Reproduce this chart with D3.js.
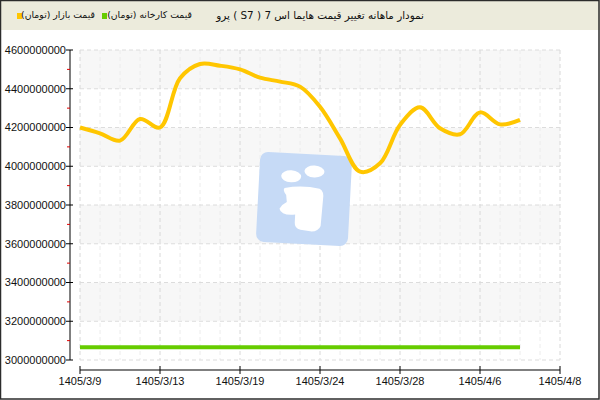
<!DOCTYPE html>
<html>
<head>
<meta charset="UTF-8">
<title>Haima S7 price chart</title>
<script src="https://cdn.jsdelivr.net/npm/d3@7"></script>
<style>
  body { margin: 0; background: #fff; }
  svg { display: block; font-family: "Liberation Sans", "DejaVu Sans", sans-serif; }
</style>
</head>
<body>
<script>
// x positions: 25 slots, labels every 4th slot
const xTickLabels = ['1405/3/9', '1405/3/13', '1405/3/19', '1405/3/24', '1405/3/28', '1405/4/6', '1405/4/8'];
const marketPrice = [4200, 4170, 4132, 4244, 4200, 4454, 4528, 4519, 4500, 4457, 4437, 4411,
                     4307, 4144, 3972, 4015, 4213, 4304, 4196, 4165, 4278, 4216, 4239].map(v => v * 1e6);
const factoryPrice = Array(23).fill(3066e6);
const yTicks = d3.range(3000e6, 4600e6 + 1, 200e6);

const titleText = 'نمودار ماهانه تغییر قیمت هایما اس 7 ( S7 ) پرو';
const legendFactory = 'قیمت کارخانه (تومان)';
const legendMarket = 'قیمت بازار (تومان)';

const width = 600, height = 400;
const plot = { left: 80, right: 560, top: 50, bottom: 360 };

const svg = d3.select('body').append('svg')
    .attr('width', width)
    .attr('height', height);

const x = d3.scaleLinear().domain([0, 24]).range([plot.left, plot.right]);
const y = d3.scaleLinear().domain([3000e6, 4600e6]).range([plot.bottom, plot.top]);

// header
svg.append('rect').attr('x', 0).attr('y', 0).attr('width', width).attr('height', 30).attr('fill', '#ecebdc');

// bands
const bands = d3.range(3000e6, 4600e6, 200e6);
svg.append('g').selectAll('rect')
    .data(bands)
    .join('rect')
    .attr('x', plot.left)
    .attr('width', plot.right - plot.left)
    .attr('y', d => y(d + 200e6))
    .attr('height', d => y(d) - y(d + 200e6))
    .attr('fill', (d, i) => i % 2 === 1 ? '#f7f7f7' : '#fff');

// grid
const grid = svg.append('g').attr('fill', 'none');
grid.selectAll('.vmin')
    .data(d3.range(0, 25))
    .join('line')
    .attr('x1', d => x(d)).attr('x2', d => x(d))
    .attr('y1', plot.top).attr('y2', plot.bottom)
    .attr('stroke', d => d % 4 === 0 ? '#d8d8d8' : '#ececec')
    .attr('stroke-dasharray', '4,3');
grid.selectAll('.h')
    .data(yTicks)
    .join('line')
    .attr('x1', plot.left).attr('x2', plot.right)
    .attr('y1', d => y(d)).attr('y2', d => y(d))
    .attr('stroke', '#dcdcdc')
    .attr('stroke-dasharray', '4,3');

// watermark logo
const logo = svg.append('g').attr('transform', 'translate(304,199) rotate(3)');
logo.append('rect')
    .attr('x', -46).attr('y', -45).attr('width', 92).attr('height', 90)
    .attr('rx', 8).attr('fill', '#c6daf6');
logo.append('ellipse').attr('cx', -14).attr('cy', -22).attr('rx', 10).attr('ry', 6).attr('fill', '#fff');
logo.append('ellipse').attr('cx', 9).attr('cy', -28).attr('rx', 10).attr('ry', 6).attr('fill', '#fff');
logo.append('path')
    .attr('d', 'M-20,-10 Q-2,-14 15,-11 Q20,-9 19,0 L18,26 Q16,32 8,32 L-2,31 Q-8,30 -8,24 L-8,16 Q-22,18 -24,11 Q-21,6 -17,4 L-18,-3 Q-22,-8 -20,-10 Z')
    .attr('fill', '#fff');

// lines
const line = d3.line()
    .x((d, i) => x(i))
    .y(d => y(d))
    .curve(d3.curveCatmullRom.alpha(0.5));

svg.append('path')
    .datum(factoryPrice)
    .attr('d', line)
    .attr('fill', 'none')
    .attr('stroke', '#66cc00')
    .attr('stroke-width', 4);

svg.append('path')
    .datum(marketPrice)
    .attr('d', line)
    .attr('fill', 'none')
    .attr('stroke', '#ffc600')
    .attr('stroke-width', 4)
    .attr('stroke-linejoin', 'round');

// y axis
const yAxis = svg.append('g').attr('transform', 'translate(70,0)');
yAxis.append('line').attr('x1', 0).attr('x2', 0).attr('y1', plot.top).attr('y2', plot.bottom).attr('stroke', '#000');
yAxis.selectAll('.minor')
    .data(d3.range(3100e6, 4600e6, 200e6))
    .join('line')
    .attr('x1', -3).attr('x2', 0)
    .attr('y1', d => y(d)).attr('y2', d => y(d))
    .attr('stroke', '#e00000');
yAxis.selectAll('.major')
    .data(yTicks)
    .join('line')
    .attr('x1', -4).attr('x2', 3)
    .attr('y1', d => y(d)).attr('y2', d => y(d))
    .attr('stroke', '#000');
yAxis.selectAll('text')
    .data(yTicks)
    .join('text')
    .attr('x', -4)
    .attr('y', d => y(d))
    .attr('dy', '0.35em')
    .attr('text-anchor', 'end')
    .attr('font-size', 11)
    .attr('fill', '#111')
    .text(d => d3.format('d')(d));

// x axis
const xAxis = svg.append('g').attr('transform', 'translate(0,370)');
xAxis.append('line').attr('x1', plot.left).attr('x2', plot.right).attr('y1', 0).attr('y2', 0).attr('stroke', '#000');
xAxis.selectAll('.tick')
    .data(xTickLabels)
    .join('line')
    .attr('x1', (d, i) => x(i * 4)).attr('x2', (d, i) => x(i * 4))
    .attr('y1', -4).attr('y2', 4)
    .attr('stroke', '#000');
xAxis.selectAll('text')
    .data(xTickLabels)
    .join('text')
    .attr('x', (d, i) => x(i * 4))
    .attr('y', 15)
    .attr('text-anchor', 'middle')
    .attr('font-size', 11)
    .attr('fill', '#111')
    .text(d => d);

// header text + legend (rtl: anchor "start" sits on the right edge)
svg.append('text')
    .attr('x', 424).attr('y', 19)
    .attr('text-anchor', 'start')
    .attr('font-size', 10.4)
    .attr('font-family', 'DejaVu Sans')
    .attr('fill', '#111')
    .style('direction', 'rtl')
    .text(titleText);

const legend = [
    { label: legendFactory, color: '#66cc00', sx: 102, tx: 192 },
    { label: legendMarket, color: '#ffc600', sx: 17, tx: 95 }
];
svg.append('g').selectAll('rect')
    .data(legend)
    .join('rect')
    .attr('x', d => d.sx).attr('y', 13).attr('width', 5).attr('height', 6)
    .attr('fill', d => d.color);
svg.append('g').selectAll('text')
    .data(legend)
    .join('text')
    .attr('x', d => d.tx).attr('y', 18)
    .attr('text-anchor', 'start')
    .attr('font-size', 9.3)
    .attr('font-family', 'DejaVu Sans')
    .attr('fill', '#111')
    .style('direction', 'rtl')
    .text(d => d.label);

// frame
svg.append('rect')
    .attr('x', 0.5).attr('y', 0.5).attr('width', width - 1.5).attr('height', height - 1.5)
    .attr('fill', 'none').attr('stroke', '#2c2c2c').attr('stroke-width', 1.5);
</script>
</body>
</html>
